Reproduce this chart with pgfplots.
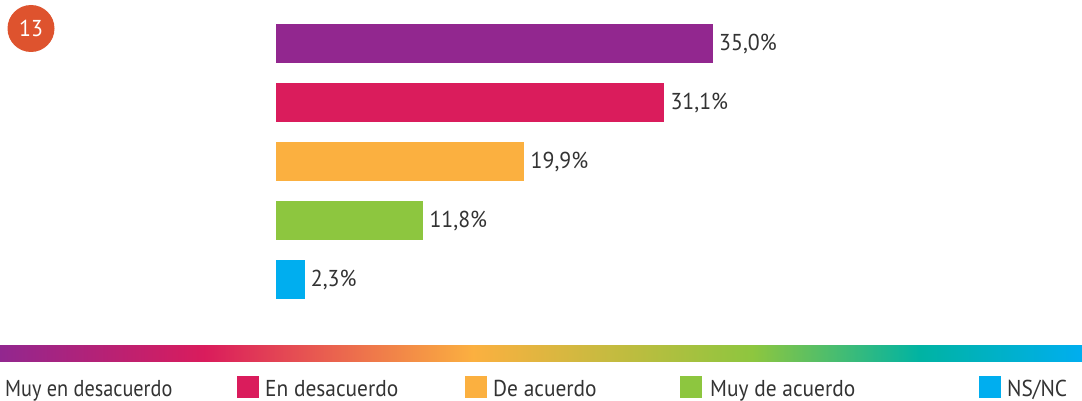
\documentclass[border=0pt]{standalone}
\usepackage{pgfplots}
\pgfplotsset{compat=1.18}
\usepackage{fontspec}
\setmainfont{PT Sans}
\newfontfamily\legfont[FakeStretch=0.93]{PT Sans}
\newfontfamily\legfontn[FakeStretch=0.88]{PT Sans}
\newfontfamily\labfont[FakeStretch=0.95]{PT Sans}
\definecolor{cPur}{HTML}{92278F}
\definecolor{cRed}{HTML}{DA1C5C}
\definecolor{cOra}{HTML}{FBB040}
\definecolor{cGre}{HTML}{8DC63F}
\definecolor{cTea}{HTML}{00B3A3}
\definecolor{cBlu}{HTML}{00AEEF}
\definecolor{cCirc}{HTML}{DE532E}
\definecolor{txt}{HTML}{333333}
\begin{document}
\begin{tikzpicture}
\useasboundingbox[fill=white] (0pt,0pt) rectangle (1082pt,-401pt);
% circle badge
\fill[cCirc] (31pt,-28.5pt) circle (23.5pt);
\node[text=white,font=\labfont\fontsize{23}{26}\selectfont] at (31pt,-28.5pt) {13};
\begin{axis}[
  at={(276pt,-309pt)}, anchor=south west,
  scale only axis, width=806pt, height=295pt,
  hide axis, clip=false,
  xmin=0, xmax=64.55, ymin=-0.5, ymax=4.5,
  xbar, bar width=39.5pt, bar shift=0pt,
  nodes near coords={\pgfmathprintnumber[fixed,fixed zerofill,precision=1,use comma,assume math mode=true]{\pgfplotspointmeta}\%},
  every node near coord/.append style={anchor=west, inner sep=0pt, xshift=6pt, yshift=-1pt, text=txt, font=\labfont\fontsize{23}{26}\selectfont},
]
\addplot[fill=cPur, draw=none] coordinates {(35.0,4)};
\addplot[fill=cRed, draw=none] coordinates {(31.1,3)};
\addplot[fill=cOra, draw=none] coordinates {(19.9,2)};
\addplot[fill=cGre, draw=none] coordinates {(11.8,1)};
\addplot[fill=cBlu, draw=none] coordinates {(2.3,0)};
\end{axis}
% gradient strip
\shade[left color=cPur, right color=cRed] (0pt,-345pt) rectangle (205.5pt,-361pt);
\shade[left color=cRed, right color=cOra] (205pt,-345pt) rectangle (473.5pt,-361pt);
\shade[left color=cOra, right color=cGre] (473pt,-345pt) rectangle (753.5pt,-361pt);
\shade[left color=cGre, right color=cTea] (753pt,-345pt) rectangle (920.5pt,-361pt);
\shade[left color=cTea, right color=cBlu] (920pt,-345pt) rectangle (1082pt,-361pt);
% legend
\begin{scope}[every node/.style={anchor=base west, inner sep=0pt, text=txt, font=\legfont\fontsize{23}{26}\selectfont}]
\node[font=\legfontn\fontsize{23}{26}\selectfont] at (5pt,-396.5pt) {Muy en desacuerdo};
\fill[cRed] (237pt,-376pt) rectangle (259pt,-398pt);
\node at (265pt,-396.5pt) {En desacuerdo};
\fill[cOra] (465pt,-376pt) rectangle (487pt,-398pt);
\node at (493pt,-396.5pt) {De acuerdo};
\fill[cGre] (680pt,-376pt) rectangle (702pt,-398pt);
\node at (710pt,-396.5pt) {Muy de acuerdo};
\fill[cBlu] (979pt,-376pt) rectangle (1001pt,-398pt);
\node at (1007pt,-396.5pt) {NS/NC};
\end{scope}
\end{tikzpicture}
\end{document}
